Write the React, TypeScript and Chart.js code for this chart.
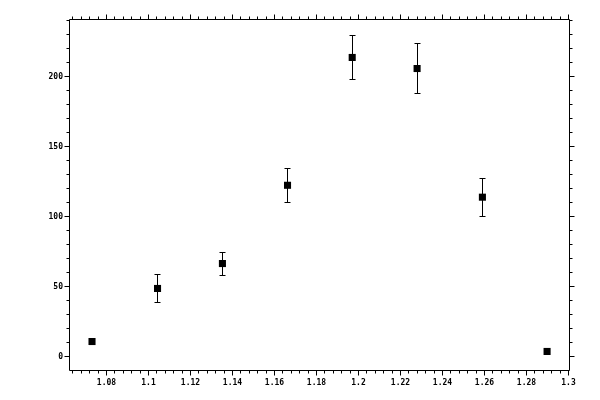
import React, { useEffect, useRef } from "react";
import { Chart, registerables } from "chart.js";

Chart.register(...registerables);

const xValues = [1.0731, 1.1043, 1.1352, 1.1662, 1.197, 1.2279, 1.259, 1.2898];
const yValues = [10.7, 48.6, 66.4, 122.3, 213.6, 205.7, 113.8, 3.6];
const yErrors = [0, 10, 8.2, 12.3, 15.7, 18.2, 13.6, 0];

const xTickValues = [1.08, 1.1, 1.12, 1.14, 1.16, 1.18, 1.2, 1.22, 1.24, 1.26, 1.28, 1.3];
const xTickLabels = ["1.08", "1.1", "1.12", "1.14", "1.16", "1.18", "1.2", "1.22", "1.24", "1.26", "1.28", "1.3"];
const yTickValues = [0, 50, 100, 150, 200];
const yTickLabels = ["0", "50", "100", "150", "200"];

const X_MIN = 1.062619;
const X_MAX = 1.300714;
const Y_MIN = -9.64;
const Y_MAX = 241.07;
const X_MINOR_STEP = 0.004;
const Y_MINOR_STEP = 10;

const px = (v: number) => Math.round(v - 0.5) + 0.5;

const framePlugin = {
  id: "frameTicks",
  beforeDatasetsDraw(chart: any) {
    const ctx = chart.ctx;
    const xs = chart.scales.x;
    const ys = chart.scales.y;
    // error bars
    ctx.save();
    ctx.strokeStyle = "#000";
    ctx.lineWidth = 1;
    ctx.beginPath();
    for (let i = 0; i < xValues.length; i++) {
      const e = yErrors[i];
      if (!e) continue;
      const x = px(xs.getPixelForValue(xValues[i]));
      const yt = px(ys.getPixelForValue(yValues[i] + e));
      const yb = px(ys.getPixelForValue(yValues[i] - e));
      ctx.moveTo(x, yt);
      ctx.lineTo(x, yb);
      ctx.moveTo(x - 3, yt);
      ctx.lineTo(x + 3, yt);
      ctx.moveTo(x - 3, yb);
      ctx.lineTo(x + 3, yb);
    }
    ctx.stroke();
    ctx.restore();
  },
  afterDraw(chart: any) {
    const ctx = chart.ctx;
    const xs = chart.scales.x;
    const ys = chart.scales.y;
    const L = 69.5, R = 569.5, T = 19.5, B = 370.5;
    ctx.save();
    ctx.strokeStyle = "#000";
    ctx.lineWidth = 1;
    ctx.beginPath();
    ctx.rect(L, T, R - L, B - T);
    // x ticks
    const xMinorStart = Math.ceil(X_MIN / X_MINOR_STEP - 1e-6);
    for (let k = xMinorStart; k * X_MINOR_STEP <= X_MAX + 1e-9; k++) {
      const v = k * X_MINOR_STEP;
      const isMajor = xTickValues.some((t) => Math.abs(t - v) < 1e-6);
      const len = isMajor ? 5 : 3;
      const x = px(xs.getPixelForValue(v));
      ctx.moveTo(x, B);
      ctx.lineTo(x, B + len);
      ctx.moveTo(x, T);
      ctx.lineTo(x, T - len);
    }
    // y ticks
    const yMinorStart = Math.ceil(Y_MIN / Y_MINOR_STEP - 1e-6);
    for (let k = yMinorStart; k * Y_MINOR_STEP <= Y_MAX + 1e-9; k++) {
      const v = k * Y_MINOR_STEP;
      const isMajor = yTickValues.some((t) => Math.abs(t - v) < 1e-6);
      const len = isMajor ? 5 : 3;
      const y = px(ys.getPixelForValue(v));
      ctx.moveTo(L, y);
      ctx.lineTo(L - len, y);
      ctx.moveTo(R, y);
      ctx.lineTo(R + len, y);
    }
    ctx.stroke();
    ctx.restore();
  },
};

export default function App() {
  const ref = useRef<HTMLCanvasElement | null>(null);
  useEffect(() => {
    if (!ref.current) return;
    const font = { family: "'DejaVu Sans Mono', monospace", size: 8, weight: "bold" as const };
    const chart = new Chart(ref.current, {
      type: "scatter",
      data: {
        datasets: [
          {
            data: xValues.map((x, i) => ({ x, y: yValues[i] })),
            showLine: false,
            pointStyle: "rect",
            pointRadius: 5,
            pointHoverRadius: 5,
            backgroundColor: "#000",
            borderColor: "#000",
            borderWidth: 0,
          },
        ],
      },
      options: {
        animation: false,
        responsive: false,
        devicePixelRatio: 1,
        layout: { padding: { left: 0, top: 19, right: 30, bottom: 0 } },
        plugins: { legend: { display: false }, tooltip: { enabled: false } },
        scales: {
          x: {
            type: "linear",
            min: X_MIN,
            max: X_MAX,
            afterBuildTicks: (s: any) => {
              s.ticks = xTickValues.map((value) => ({ value }));
            },
            afterFit: (s: any) => {
              s.height = 30;
            },
            ticks: {
              color: "#000",
              font,
              padding: 3,
              maxRotation: 0,
              autoSkip: false,
              callback: (_v: any, i: number) => xTickLabels[i],
            },
            grid: { display: true, drawOnChartArea: false, drawTicks: true, tickLength: 5, tickColor: "rgba(0,0,0,0)" },
            border: { display: false },
          },
          y: {
            type: "linear",
            min: Y_MIN,
            max: Y_MAX,
            afterBuildTicks: (s: any) => {
              s.ticks = yTickValues.map((value) => ({ value }));
            },
            afterFit: (s: any) => {
              s.width = 70;
            },
            ticks: {
              color: "#000",
              font,
              padding: 2,
              autoSkip: false,
              callback: (_v: any, i: number) => yTickLabels[i],
            },
            grid: { display: true, drawOnChartArea: false, drawTicks: true, tickLength: 5, tickColor: "rgba(0,0,0,0)" },
            border: { display: false },
          },
        },
      },
      plugins: [framePlugin],
    });
    return () => chart.destroy();
  }, []);
  return (
    <div style={{ position: "fixed", left: 0, top: 0, width: 600, height: 400, background: "#fff" }}>
      <canvas ref={ref} width={600} height={400} style={{ display: "block", width: 600, height: 400 }} />
    </div>
  );
}
